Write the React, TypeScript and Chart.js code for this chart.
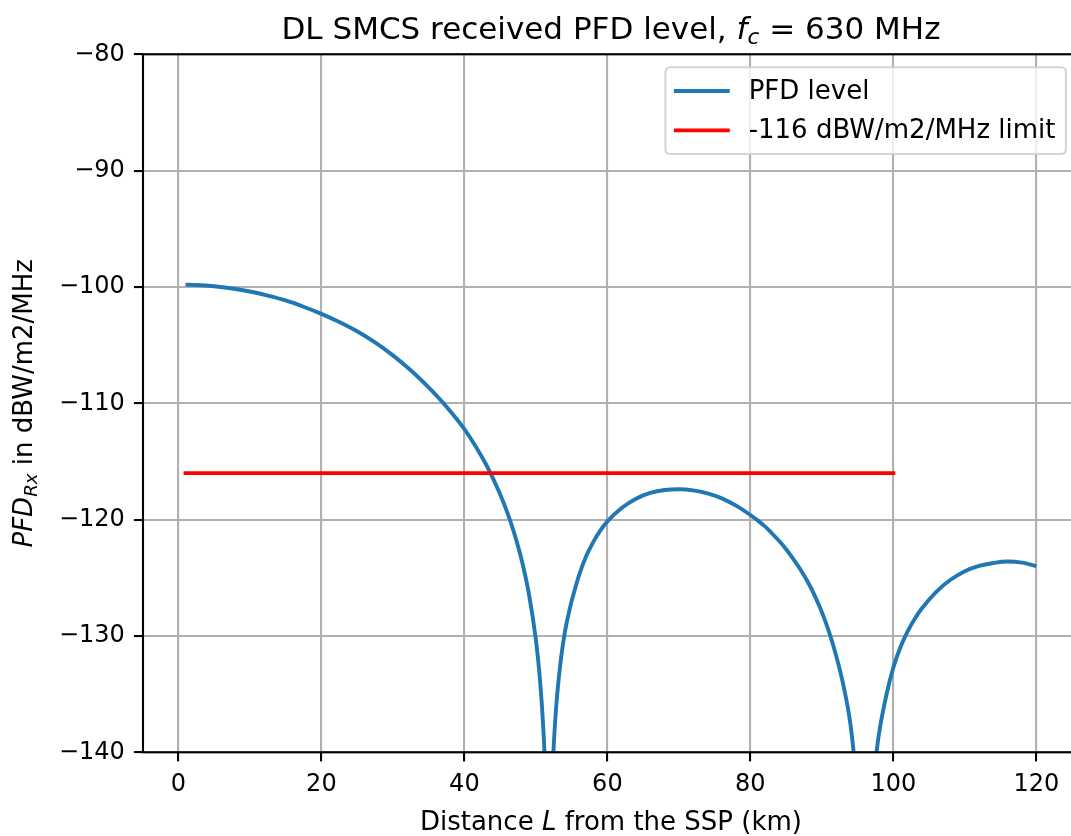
import React, { useEffect, useRef } from "react";
import { Chart, registerables } from "chart.js";

Chart.register(...registerables);

const distanceKm = [1, 2.5, 5, 7.5, 10, 12.5, 15, 17.5, 20, 22.5, 25, 27.5, 30, 32.5, 35, 37.5, 40, 41.5, 43, 44, 45, 46, 47, 48, 49, 50, 50.5, 51, 51.3, 51.6, 51.8, 52.0, 52.2, 52.4, 52.7, 53, 53.5, 54, 54.5, 55, 55.5, 56, 57, 58, 59, 60, 62, 64, 66, 68, 70, 72, 74, 76, 78, 80, 81, 82, 83, 84, 85, 86, 87, 88, 89, 90, 91, 92, 93, 94, 94.5, 95, 95.5, 96, 96.5, 97, 97.7, 98, 99, 100, 101, 102, 103, 104, 106, 108, 110, 112, 114, 116, 118, 120];
const pfdLevel = [-99.80, -99.83, -99.94, -100.13, -100.39, -100.74, -101.16, -101.70, -102.31, -103.01, -103.81, -104.77, -105.88, -107.16, -108.64, -110.3, -112.22, -113.62, -115.22, -116.45, -117.82, -119.38, -121.22, -123.45, -126.30, -130.32, -133.24, -137.55, -141.65, -150, -170, -150.2, -144.2, -140.7, -137.3, -134.9, -132.0, -129.87, -128.31, -127.0, -125.9, -124.85, -123.2, -121.95, -120.95, -120.15, -119.0, -118.2, -117.7, -117.45, -117.39, -117.48, -117.74, -118.17, -118.8, -119.6, -120.06, -120.56, -121.17, -121.82, -122.54, -123.38, -124.28, -125.32, -126.53, -127.95, -129.65, -131.7, -134.2, -137.6, -140.35, -143.96, -150, -170, -150.3, -144.3, -139.74, -138.36, -135.14, -132.7, -130.95, -129.6, -128.52, -127.62, -126.2, -125.17, -124.43, -123.98, -123.73, -123.6, -123.7, -124.0];

const limitX = [1, 100];
const limitY = [-116, -116];

const xTicks = [0, 20, 40, 60, 80, 100, 120];
const yTicks = [-140, -130, -120, -110, -100, -90, -80];

const seriesLabels = ["PFD level", "-116 dBW/m2/MHz limit"];
const seriesColors = ["#1f77b4", "#ff0000"];

const FONT = '"DejaVu Sans", sans-serif';
const CANVAS_W = 1100;
const CANVAS_H = 836;

type Seg = { text: string; italic?: boolean; size: number; dy?: number };

function drawRich(ctx: CanvasRenderingContext2D, segs: Seg[], x: number, y: number) {
  let total = 0;
  const widths: number[] = [];
  for (const s of segs) {
    ctx.font = `${s.italic ? "italic " : ""}${s.size}px ${FONT}`;
    const w = ctx.measureText(s.text).width;
    widths.push(w);
    total += w;
  }
  let cx = x - total / 2;
  ctx.textAlign = "left";
  ctx.textBaseline = "alphabetic";
  segs.forEach((s, i) => {
    ctx.font = `${s.italic ? "italic " : ""}${s.size}px ${FONT}`;
    ctx.fillText(s.text, cx, y + (s.dy || 0));
    cx += widths[i];
  });
}

const decorPlugin = {
  id: "decor",
  afterDatasetsDraw(chart: any) {
    const ctx: CanvasRenderingContext2D = chart.ctx;
    const a = chart.chartArea;
    ctx.save();
    // spines
    ctx.strokeStyle = "#000";
    ctx.lineWidth = 2.1;
    ctx.strokeRect(a.left, a.top, a.right - a.left, a.bottom - a.top);

    // title
    ctx.fillStyle = "#000";
    const cxm = (a.left + a.right) / 2;
    drawRich(
      ctx,
      [
        { text: "DL SMCS received PFD level, ", size: 31 },
        { text: "f", italic: true, size: 31 },
        { text: "c", italic: true, size: 21.7, dy: 5 },
        { text: " = 630 MHz", size: 31 },
      ],
      cxm,
      a.top - 15.6
    );

    // x label
    drawRich(
      ctx,
      [
        { text: "Distance ", size: 26 },
        { text: "L", italic: true, size: 26 },
        { text: " from the SSP (km)", size: 26 },
      ],
      cxm,
      830
    );

    // y label
    ctx.save();
    ctx.translate(32, (a.top + a.bottom) / 2);
    ctx.rotate(-Math.PI / 2);
    drawRich(
      ctx,
      [
        { text: "PFD", italic: true, size: 26 },
        { text: "Rx", italic: true, size: 18.2, dy: 4.5 },
        { text: " in dBW/m2/MHz", size: 26 },
      ],
      0,
      0
    );
    ctx.restore();

    // legend
    const fs = 26;
    ctx.font = `${fs}px ${FONT}`;
    let tw = 0;
    for (const l of seriesLabels) tw = Math.max(tw, ctx.measureText(l).width);
    const pad = 0.4 * fs;
    const handle = 2 * fs;
    const htp = 0.8 * fs;
    const rowH = 26.45;
    const w = pad + handle + htp + tw + pad;
    const h = 2 * pad + rowH * 2 + 0.5 * fs;
    const right = a.right - 0.5 * fs;
    const top = a.top + 0.5 * fs;
    const left = right - w;
    const r = 5;
    ctx.beginPath();
    ctx.moveTo(left + r, top);
    ctx.lineTo(left + w - r, top);
    ctx.quadraticCurveTo(left + w, top, left + w, top + r);
    ctx.lineTo(left + w, top + h - r);
    ctx.quadraticCurveTo(left + w, top + h, left + w - r, top + h);
    ctx.lineTo(left + r, top + h);
    ctx.quadraticCurveTo(left, top + h, left, top + h - r);
    ctx.lineTo(left, top + r);
    ctx.quadraticCurveTo(left, top, left + r, top);
    ctx.closePath();
    ctx.fillStyle = "rgba(255,255,255,0.8)";
    ctx.fill();
    ctx.strokeStyle = "rgba(204,204,204,0.8)";
    ctx.lineWidth = 2.1;
    ctx.stroke();

    seriesLabels.forEach((lab, i) => {
      const yc = top + pad + rowH / 2 + i * (rowH + 0.5 * fs);
      ctx.strokeStyle = seriesColors[i];
      ctx.lineWidth = 3.9;
      ctx.lineCap = "square";
      ctx.beginPath();
      ctx.moveTo(left + pad, yc);
      ctx.lineTo(left + pad + handle, yc);
      ctx.stroke();
      ctx.fillStyle = "#000";
      ctx.font = `${fs}px ${FONT}`;
      ctx.textAlign = "left";
      ctx.textBaseline = "middle";
      ctx.fillText(lab, left + pad + handle + htp, yc + 1);
    });
    ctx.restore();
  },
};

export default function App() {
  const ref = useRef<HTMLCanvasElement | null>(null);

  useEffect(() => {
    if (!ref.current) return;
    const pfdPoints = distanceKm.map((x, i) => ({ x, y: pfdLevel[i] }));
    const limitPoints = limitX.map((x, i) => ({ x, y: limitY[i] }));
    const chart = new Chart(ref.current, {
      type: "line",
      data: {
        datasets: [
          {
            label: seriesLabels[0],
            data: pfdPoints,
            borderColor: seriesColors[0],
            borderWidth: 3.9,
            pointRadius: 0,
            cubicInterpolationMode: "monotone",
            borderJoinStyle: "round",
            fill: false,
            order: 1,
          },
          {
            label: seriesLabels[1],
            data: limitPoints,
            borderColor: seriesColors[1],
            borderWidth: 3.9,
            pointRadius: 0,
            borderCapStyle: "square",
            fill: false,
            order: 0,
          },
        ],
      },
      options: {
        responsive: false,
        maintainAspectRatio: false,
        animation: false,
        events: [],
        layout: { padding: { left: 0, right: CANVAS_W - 1078.9, top: 54.3, bottom: 0 } },
        plugins: {
          legend: { display: false },
          tooltip: { enabled: false },
          title: { display: false },
        },
        scales: {
          x: {
            type: "linear",
            min: -4.95,
            max: 125.95,
            afterBuildTicks: (axis: any) => {
              axis.ticks = xTicks.map((v) => ({ value: v }));
            },
            afterFit: (axis: any) => {
              axis.height = CANVAS_H - 752.3;
            },
            grid: {
              color: "#b0b0b0",
              lineWidth: 2.1,
              drawTicks: true,
              tickLength: 9.1,
              tickColor: "#000",
              tickWidth: 2.1,
            },
            border: { display: false },
            ticks: {
              autoSkip: false,
              maxRotation: 0,
              padding: 9.1,
              color: "#000",
              font: { family: FONT, size: 24 },
              callback: (v: any) => String(v).replace("-", "\u2212"),
            },
          },
          y: {
            type: "linear",
            min: -140,
            max: -80,
            afterBuildTicks: (axis: any) => {
              axis.ticks = yTicks.map((v) => ({ value: v }));
            },
            afterFit: (axis: any) => {
              axis.width = 143;
            },
            grid: {
              color: "#b0b0b0",
              lineWidth: 2.1,
              drawTicks: true,
              tickLength: 9.1,
              tickColor: "#000",
              tickWidth: 2.1,
            },
            border: { display: false },
            ticks: {
              autoSkip: false,
              padding: 9.1,
              color: "#000",
              font: { family: FONT, size: 24 },
              callback: (v: any) => String(v).replace("-", "\u2212"),
            },
          },
        },
      },
      plugins: [decorPlugin],
    });
    return () => chart.destroy();
  }, []);

  return (
    <div
      style={{
        position: "fixed",
        left: 0,
        top: 0,
        width: 1071,
        height: 836,
        overflow: "hidden",
        background: "#fff",
      }}
    >
      <canvas
        ref={ref}
        width={CANVAS_W}
        height={CANVAS_H}
        style={{ width: CANVAS_W, height: CANVAS_H, display: "block" }}
      />
    </div>
  );
}
